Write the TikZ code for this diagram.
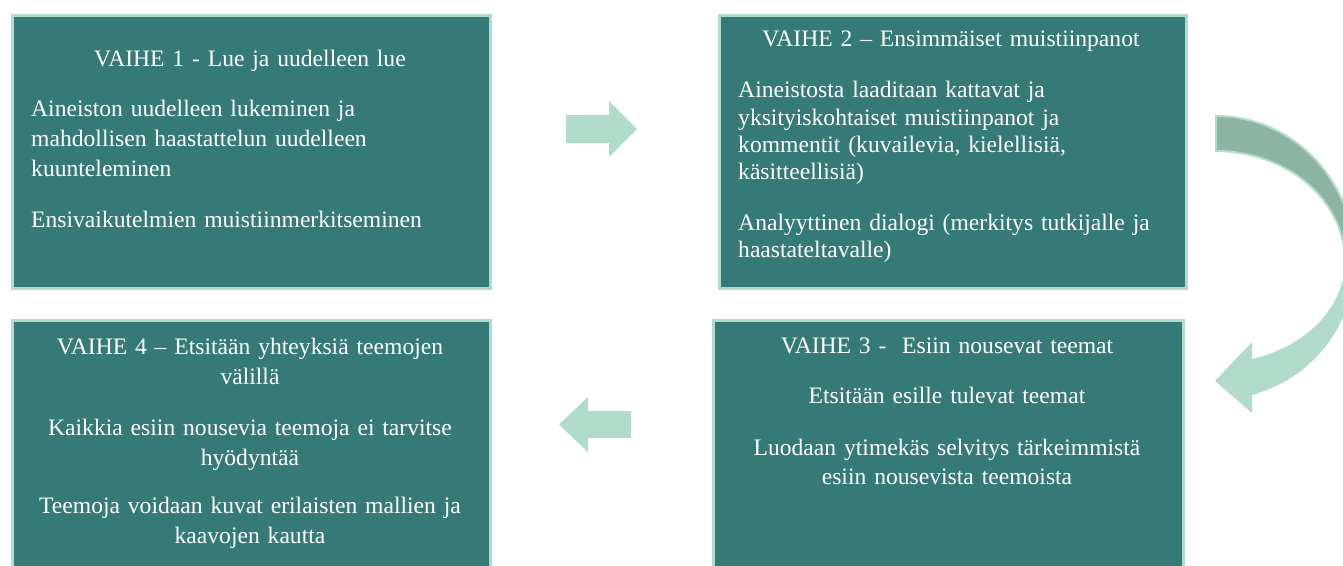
\documentclass[tikz,border=0pt]{standalone}
\usepackage{fontspec}
\setmainfont{Liberation Serif}
\definecolor{boxfill}{HTML}{367A77}
\definecolor{mint}{HTML}{B1DCCB}
\definecolor{darkmint}{HTML}{8DB3A2}
\begin{document}
\begin{tikzpicture}[x=1pt,y=-1pt,
  box/.style={draw=mint, line width=3pt, fill=boxfill, rectangle, anchor=north west, inner sep=0pt},
  txt/.style={text=white, inner sep=0pt},
  fa/.style={font=\fontsize{23.6}{30}\selectfont},
  fb/.style={font=\fontsize{23.6}{27.4}\selectfont},
  fc/.style={font=\fontsize{23.6}{29.3}\selectfont},
  fd/.style={font=\fontsize{23.6}{30}\selectfont},
  lefttxt/.style={txt, anchor=base west, align=left, text width=440pt},
  ctrtxt/.style={txt, anchor=base, align=center, text width=460pt},
  blockarrow/.style={fill=mint, draw=none}]
\useasboundingbox (0,0) rectangle (1343,565);
\clip (0,0) rectangle (1343,565);
\fill[white] (0,0) rectangle (1343,565);

% boxes
\node[box, minimum width=478pt, minimum height=273pt] (v1) at (10.5,13.5) {};
\node[box, minimum width=467pt, minimum height=273pt] (v2) at (717.5,13.5) {};
\node[box, minimum width=470pt, minimum height=300pt] (v3) at (711.5,318.5) {};
\node[box, minimum width=478pt, minimum height=300pt] (v4) at (10.5,318.5) {};

% box 1 text
\node[ctrtxt, fa] (t1) at (250,66.7) {VAIHE 1 - Lue ja uudelleen lue};
\node[lefttxt, fa] (t1a) at (31,116.7) {Aineiston uudelleen lukeminen ja\\mahdollisen haastattelun uudelleen\\kuunteleminen};
\node[lefttxt, fa] (t1b) at (31,227.7) {Ensivaikutelmien muistiinmerkitseminen};

% box 2 text
\node[ctrtxt, fb] (t2) at (951,46.7) {VAIHE 2 – Ensimmäiset muistiinpanot};
\node[lefttxt, fb] (t2a) at (738,97.7) {Aineistosta laaditaan kattavat ja\\yksityiskohtaiset muistiinpanot ja\\kommentit (kuvailevia, kielellisiä,\\käsitteellisiä)};
\node[lefttxt, fb] (t2b) at (738,230) {Analyyttinen dialogi (merkitys tutkijalle ja\\haastateltavalle)};

% box 3 text
\node[ctrtxt, fc] (t3) at (947,353.3) {VAIHE 3 -\ \ Esiin nousevat teemat};
\node[ctrtxt, fc] (t3a) at (947,403.3) {Etsitään esille tulevat teemat};
\node[ctrtxt, fc] (t3b) at (947,455) {Luodaan ytimekäs selvitys tärkeimmistä\\esiin nousevista teemoista};

% box 4 text
\node[ctrtxt, fd] (t4) at (250,354) {VAIHE 4 – Etsitään yhteyksiä teemojen\\välillä};
\node[ctrtxt, fd] (t4a) at (250,435) {Kaikkia esiin nousevia teemoja ei tarvitse\\hyödyntää};
\node[ctrtxt, fd] (t4b) at (250,513.3) {Teemoja voidaan kuvat erilaisten mallien ja\\kaavojen kautta};

% straight block arrows
\fill[blockarrow] (566,115) -- (609,115) -- (609,101) -- (637,129) -- (609,157) -- (609,143) -- (566,143) -- cycle;
\fill[blockarrow] (631,411) -- (588,411) -- (588,397) -- (559,424.5) -- (588,452) -- (588,438) -- (631,438) -- cycle;

% curved arrow: lower (light) part with head
\fill[blockarrow] plot[domain=0:75,samples=40] ({1216+139*cos(\x)},{261+138.7*sin(\x)})
  -- (1252,413) -- (1215,381) -- (1252,342)
  -- plot[domain=73.8:0,samples=40] ({1216+129*cos(\x)},{261+102*sin(\x)}) -- cycle;
% curved arrow: upper (dark) part
\filldraw[fill=darkmint, draw=mint, line width=2pt]
  plot[domain=-90:0,samples=50] ({1216+139*cos(\x)},{261+145*sin(\x)})
  -- plot[domain=0:-90,samples=50] ({1216+129*cos(\x)},{261+110*sin(\x)}) -- cycle;
\end{tikzpicture}
\end{document}
